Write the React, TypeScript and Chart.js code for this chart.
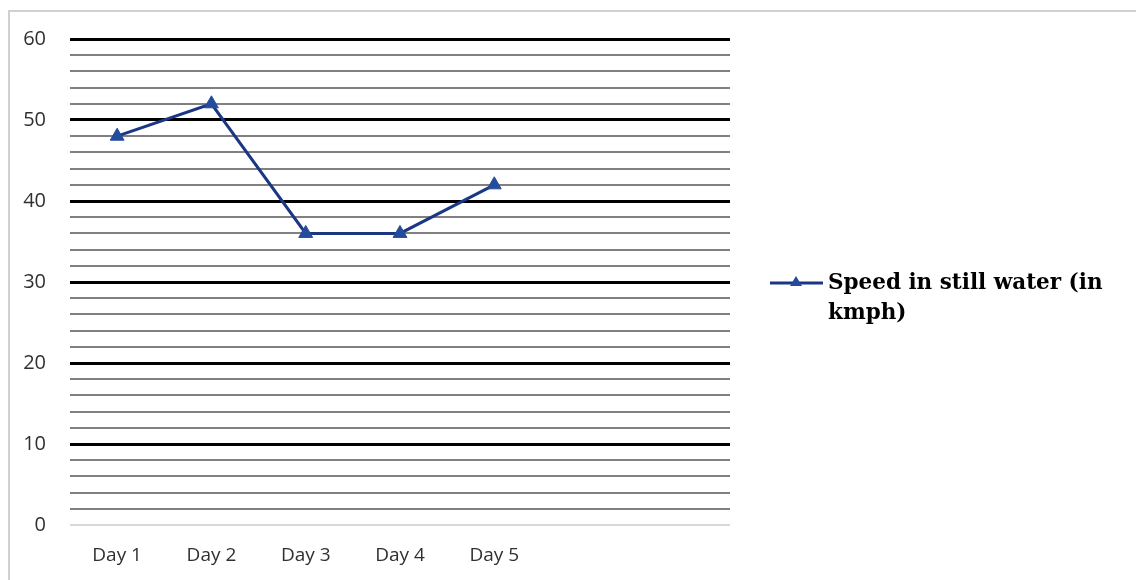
import React, { useEffect, useRef } from "react";
import { Chart, registerables } from "chart.js";

Chart.register(...registerables);

const categories = ["Day 1", "Day 2", "Day 3", "Day 4", "Day 5", "", ""];
const speedValues = [48, 52, 36, 36, 42, null, null];
const seriesLabel = "Speed in still water (in kmph)";
const legendLines = ["Speed in still water (in", "kmph)"];
const yMin = 0;
const yMax = 60;
const yStep = 2;
const yLabelStep = 10;

const LINE_COLOR = "#1b3784";
const MARKER_COLOR = "#244c9c";

const framePlugin = {
  id: "frame",
  beforeDraw(chart: any) {
    const ctx = chart.ctx;
    ctx.save();
    ctx.strokeStyle = "#d0d0d0";
    ctx.lineWidth = 2;
    ctx.beginPath();
    ctx.moveTo(9, 700);
    ctx.lineTo(9, 11);
    ctx.lineTo(1200, 11);
    ctx.stroke();
    ctx.restore();
  },
};

const legendPlugin = {
  id: "customLegend",
  afterDraw(chart: any) {
    const ctx = chart.ctx;
    ctx.save();
    const y0 = 283;
    ctx.strokeStyle = LINE_COLOR;
    ctx.lineWidth = 3;
    ctx.beginPath();
    ctx.moveTo(770, y0);
    ctx.lineTo(823, y0);
    ctx.stroke();
    ctx.fillStyle = MARKER_COLOR;
    ctx.beginPath();
    ctx.moveTo(796, y0 - 7);
    ctx.lineTo(802, y0 + 3);
    ctx.lineTo(790, y0 + 3);
    ctx.closePath();
    ctx.fill();
    ctx.fillStyle = "#000000";
    ctx.font = "bold 21.5px 'DejaVu Serif'";
    ctx.textBaseline = "middle";
    ctx.textAlign = "left";
    legendLines.forEach((t, i) => ctx.fillText(t, 828, y0 + i * 30));
    ctx.restore();
  },
};

export default function App() {
  const canvasRef = useRef<HTMLCanvasElement | null>(null);

  useEffect(() => {
    if (!canvasRef.current) return;
    const chart = new Chart(canvasRef.current, {
      type: "line",
      data: {
        labels: categories,
        datasets: [
          {
            label: seriesLabel,
            data: speedValues,
            borderColor: LINE_COLOR,
            backgroundColor: MARKER_COLOR,
            borderWidth: 3,
            pointStyle: "triangle",
            pointRadius: 8,
            pointBackgroundColor: MARKER_COLOR,
            pointBorderColor: MARKER_COLOR,
            pointBorderWidth: 1,
            tension: 0,
            spanGaps: false,
          },
        ],
      },
      options: {
        animation: false,
        responsive: false,
        maintainAspectRatio: false,
        layout: { padding: { left: 0, right: 406, top: 39, bottom: 0 } },
        plugins: {
          legend: { display: false },
          tooltip: { enabled: false },
        },
        scales: {
          x: {
            type: "category",
            offset: true,
            grid: { display: false, drawTicks: false },
            border: { display: false },
            ticks: {
              color: "#303030",
              font: { family: "'Open Sans'", size: 19 },
              padding: 19,
              autoSkip: false,
              maxRotation: 0,
            },
            afterFit(scale: any) {
              scale.height = 55;
            },
          },
          y: {
            min: yMin,
            max: yMax,
            border: { display: false },
            grid: {
              drawTicks: false,
              color: (c: any) => {
                const v = c.tick ? c.tick.value : 0;
                if (v === 0) return "#d9d9d9";
                if (v % yLabelStep === 0) return "#000000";
                return "#808080";
              },
              lineWidth: (c: any) => {
                const v = c.tick ? c.tick.value : 0;
                if (v === 0) return 2;
                if (v % yLabelStep === 0) return 3;
                return 2;
              },
            },
            ticks: {
              stepSize: yStep,
              autoSkip: false,
              color: "#303030",
              font: { family: "'Open Sans'", size: 20 },
              padding: 24,
              callback: (v: any) => (Number(v) % yLabelStep === 0 ? String(v) : ""),
            },
            afterFit(scale: any) {
              scale.width = 70;
            },
          },
        },
      },
      plugins: [framePlugin, legendPlugin],
    });
    return () => chart.destroy();
  }, []);

  return (
    <div style={{ position: "fixed", left: 0, top: 0, width: 1136, height: 580, background: "#ffffff" }}>
      <canvas ref={canvasRef} width={1136} height={580} style={{ width: 1136, height: 580, display: "block" }} />
    </div>
  );
}
